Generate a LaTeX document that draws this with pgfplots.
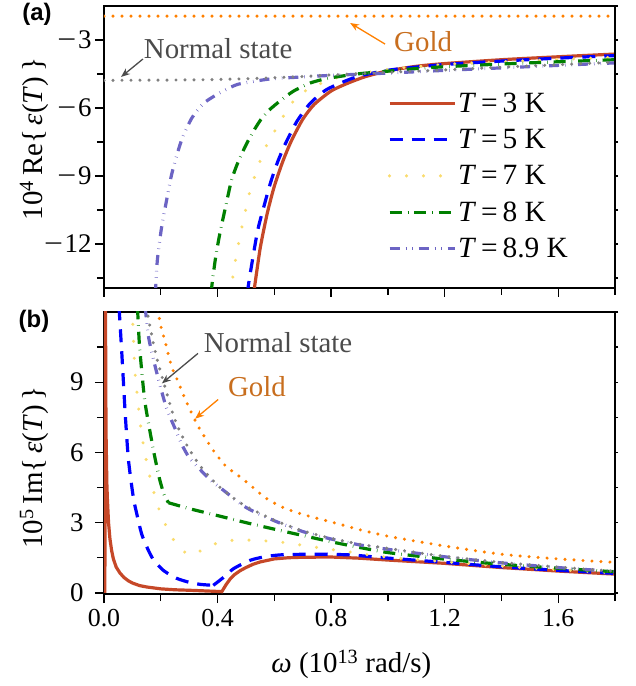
\documentclass[border=0pt]{standalone}
\usepackage{fontspec}
\setmainfont{Liberation Serif}
\newfontfamily\sansfont{Liberation Sans}
\usepackage{graphicx}
\usepackage{pgfplots}
\pgfplotsset{compat=1.18}
\usetikzlibrary{arrows.meta}

\definecolor{cRed}{RGB}{198,72,40}
\definecolor{cBlue}{RGB}{0,0,255}
\definecolor{cYel}{RGB}{250,220,110}
\definecolor{cGreen}{RGB}{0,128,0}
\definecolor{cPur}{RGB}{108,100,196}
\definecolor{cGray}{RGB}{128,128,128}
\definecolor{cOrange}{RGB}{255,128,0}
\definecolor{cGoldTxt}{RGB}{200,110,30}
\definecolor{cNormTxt}{RGB}{75,75,75}

\newcommand{\mn}{\scalebox{1.25}[1]{−}\hspace{0.06em}}

\pgfplotsset{
  myaxis/.style={
    scale only axis, width=511bp, height=282bp,
    xmin=0, xmax=1.8,
    clip mode=individual,
    axis line style={line width=1.4bp},
    every tick/.style={black, line width=1.4bp},
    tick align=outside, xtick pos=bottom, ytick pos=left,
    major tick length=9bp, minor tick length=7bp,
    /pgf/number format/assume math mode=true,
    xticklabel style={font=\fontsize{26}{30}\selectfont},
    yticklabel style={font=\fontsize{27}{31}\selectfont},
    xtick={0,0.4,0.8,1.2,1.6},
    minor xtick={0.2,0.6,1.0,1.4,1.8},
  },
  rightticks/.style={
    scale only axis, width=511bp, height=282bp,
    xmin=0, xmax=1.8,
    axis x line=none, axis y line*=right,
    axis line style={line width=1.4bp, -},
    every tick/.style={black, line width=1.4bp},
    tick align=outside, major tick length=3bp,
    xtick=\empty, yticklabels={},
  },
  sRed/.style={cRed, line width=3.2bp, solid},
  sBlue/.style={cBlue, line width=3.2bp, dash pattern=on 13bp off 9bp},
  sYel/.style={cYel, line width=3.4bp, line cap=round, dash pattern=on 0bp off 17bp},
  sGreen/.style={cGreen, line width=3.2bp, dash pattern=on 12bp off 6bp on 0.5bp off 6bp},
  sPur/.style={cPur, line width=3.2bp, dash pattern=on 10bp off 6bp on 0.5bp off 6bp on 0.5bp off 6bp},
  sGray/.style={cGray, line width=3.4bp, line cap=round, dash pattern=on 0bp off 9bp},
  sOrange/.style={cOrange, line width=3.4bp, line cap=round, dash pattern=on 0bp off 9bp},
}

\begin{document}
\begin{tikzpicture}[font=\fontsize{29}{34}\selectfont]

% ---------------- (a) ----------------
\begin{axis}[myaxis, at={(0,306bp)}, anchor=south west,
  ymin=-13.94, ymax=-1.5,
  ytick={-12,-9,-6,-3}, yticklabels={\mn12,\mn9,\mn6,\mn3},
  minor ytick={-13.5,-10.5,-7.5,-4.5},
  xticklabels={},
  legend cell align=left,
  legend image code/.code={\draw[#1] (0bp,0bp) -- (65bp,0bp);},
  legend style={draw=none, fill=none, at={(axis description cs:0.555,0.70)}, anchor=north west,
    font=\fontsize{29.5}{34}\selectfont, row sep=11.5bp, inner sep=0pt},
]
\addlegendimage{sRed}\addlegendentry{\textit{T}\,=\,3 K}
\addlegendimage{sBlue}\addlegendentry{\textit{T}\,=\,5 K}
\addlegendimage{sYel}\addlegendentry{\textit{T}\,=\,7 K}
\addlegendimage{sGreen}\addlegendentry{\textit{T}\,=\,8 K}
\addlegendimage{sPur}\addlegendentry{\textit{T}\,=\,8.9 K}

\addplot[sRed, smooth, tension=0.4, forget plot] coordinates {
 (0.527,-14.2) (0.55,-12.2) (0.575,-10.65) (0.6,-9.45) (0.63,-8.35) (0.66,-7.45)
 (0.70,-6.5) (0.74,-5.85) (0.8,-5.25) (0.86,-4.9) (0.92,-4.62) (1.0,-4.36)
 (1.1,-4.16) (1.2,-4.04) (1.4,-3.87) (1.6,-3.74) (1.8,-3.62)};
\addplot[sBlue, smooth, tension=0.4, forget plot] coordinates {
 (0.505,-14.2) (0.511,-13.62) (0.540,-11.48) (0.564,-10.31) (0.587,-9.28) (0.611,-8.4)
 (0.638,-7.6) (0.679,-6.6) (0.726,-5.8) (0.785,-5.18) (0.879,-4.67) (0.961,-4.42)
 (1.04,-4.27) (1.2,-4.08) (1.4,-3.93) (1.6,-3.8) (1.8,-3.69)};
\addplot[sYel, smooth, tension=0.4, forget plot] coordinates {
 (0.445,-14.2) (0.458,-13.1) (0.468,-12.37) (0.479,-11.66) (0.49,-11.0) (0.503,-10.26)
 (0.517,-9.53) (0.536,-8.84) (0.554,-8.2) (0.575,-7.59) (0.607,-6.9) (0.635,-6.3)
 (0.667,-5.7) (0.714,-5.2) (0.773,-4.87) (0.814,-4.68) (0.914,-4.45) (1.04,-4.24)
 (1.2,-4.08) (1.4,-3.96) (1.6,-3.86) (1.8,-3.76)};
\addplot[sGreen, smooth, tension=0.4, forget plot] coordinates {
 (0.377,-14.2) (0.382,-13.62) (0.394,-12.52) (0.409,-11.48) (0.431,-10.2) (0.45,-9.15)
 (0.475,-8.3) (0.505,-7.51) (0.529,-6.97) (0.552,-6.52) (0.581,-6.1) (0.623,-5.66)
 (0.667,-5.26) (0.726,-4.9) (0.785,-4.7) (0.89,-4.5) (0.996,-4.38) (1.1,-4.26)
 (1.2,-4.18) (1.4,-4.06) (1.6,-3.96) (1.8,-3.87)};
\addplot[sPur, smooth, tension=0.4, forget plot] coordinates {
 (0.181,-14.2) (0.188,-12.7) (0.203,-11.25) (0.22,-10.1) (0.237,-9.0) (0.256,-8.1)
 (0.278,-7.25) (0.311,-6.41) (0.352,-5.78) (0.411,-5.31) (0.47,-4.96) (0.55,-4.78)
 (0.6,-4.7) (0.7,-4.63) (0.8,-4.56) (1.0,-4.46) (1.2,-4.34) (1.4,-4.23)
 (1.6,-4.12) (1.8,-4.01)};
\addplot[sGray, smooth, forget plot] coordinates {
 (0,-4.78) (0.3,-4.76) (0.5,-4.71) (0.7,-4.61) (0.8,-4.54) (1.0,-4.43)
 (1.2,-4.32) (1.4,-4.2) (1.6,-4.09) (1.8,-3.98)};
\addplot[sOrange, forget plot] coordinates {(0,-1.95) (1.8,-1.95)};

\node[text=cNormTxt] at (axis cs:0.402,-3.40) {Normal state};
\draw[cNormTxt, line width=1.3bp, -{Stealth[length=9bp,width=7bp]}] (axis cs:0.137,-3.84) -- (axis cs:0.06,-4.63);
\node[text=cGoldTxt] at (axis cs:1.124,-3.09) {Gold};
\draw[cOrange, line width=1.3bp, -{Stealth[length=9bp,width=7bp]}] (axis cs:0.99,-3.18) -- (axis cs:0.867,-2.25);

\node[rotate=90] at (axis description cs:-0.137,0.528) {10\textsuperscript{4}\,Re\{\,\textit{ε}(\textit{T})\,\}};
\node[font=\sansfont\bfseries\fontsize{24}{28}\selectfont] at (axis description cs:-0.131,0.972) {(a)};
\end{axis}
\begin{axis}[rightticks, at={(0,306bp)}, anchor=south west,
  ymin=-13.94, ymax=-1.5, ytick={-13.5,-12,...,-1.5}]
\end{axis}

% ---------------- (b) ----------------
\begin{axis}[myaxis, at={(0,0)}, anchor=south west,
  ymin=-0.05, ymax=12,
  ytick={0,3,6,9}, minor ytick={1.5,4.5,7.5,10.5},
  xticklabels={0.0,0.4,0.8,1.2,1.6},
  xticklabel style={yshift=-3bp},
  yticklabel style={xshift=-8bp},
]
\addplot[sRed, forget plot] coordinates {
 (0.003,0) (0.005,13) (0.007,7) (0.01,4.7) (0.012,4.0) (0.016,3.0) (0.021,2.3)
 (0.027,1.8) (0.033,1.45) (0.043,1.1) (0.056,0.85) (0.07,0.66) (0.085,0.52) (0.1,0.42)
 (0.125,0.31) (0.15,0.25) (0.2,0.17) (0.25,0.13) (0.3,0.11) (0.35,0.085) (0.4,0.06) (0.415,0.05)
 (0.43,0.35) (0.445,0.6) (0.46,0.78) (0.48,0.95) (0.5,1.08) (0.525,1.22) (0.55,1.32)
 (0.6,1.45) (0.65,1.5) (0.7,1.52) (0.8,1.53) (0.9,1.48) (1.0,1.4) (1.2,1.26)
 (1.4,1.08) (1.6,0.93) (1.8,0.8)};
\addplot[sBlue, smooth, tension=0.4, forget plot] coordinates {
 (0.053,12.2) (0.058,11.2) (0.062,10.4) (0.068,9.1) (0.075,7.6) (0.086,5.7) (0.103,4.1)
 (0.115,3.4) (0.133,2.5) (0.155,1.85) (0.175,1.4) (0.21,0.95) (0.256,0.62) (0.3,0.45)
 (0.34,0.36) (0.385,0.32)};
\addplot[sBlue, smooth, tension=0.4, forget plot] coordinates {
 (0.385,0.32) (0.42,0.65) (0.456,1.03) (0.515,1.39) (0.57,1.55) (0.632,1.63) (0.75,1.65)
 (0.867,1.62) (0.984,1.5) (1.2,1.3) (1.4,1.11) (1.6,0.96) (1.8,0.83)};
\addplot[sYel, smooth, tension=0.4, forget plot] coordinates {
 (0.099,12.2) (0.103,11.03) (0.109,9.46) (0.12,8.1) (0.133,6.75) (0.145,5.9) (0.16,5.05)
 (0.18,4.1) (0.197,3.46) (0.215,2.96) (0.233,2.49) (0.262,1.99) (0.291,1.68) (0.31,1.62)
 (0.33,1.72) (0.356,1.92) (0.403,2.14) (0.456,2.25) (0.515,2.25) (0.62,2.17) (0.761,1.92)
 (0.867,1.74) (0.926,1.63) (1.0,1.52) (1.2,1.33) (1.4,1.14) (1.6,0.99) (1.8,0.86)};
\addplot[sGreen, smooth, tension=0.4, forget plot] coordinates {
 (0.118,12.2) (0.124,10.75) (0.133,9.46) (0.144,8.17) (0.162,6.89) (0.18,5.74)
 (0.197,4.8) (0.212,4.2) (0.227,3.85)};
\addplot[sGreen, smooth, tension=0.4, forget plot] coordinates {
 (0.227,3.85) (0.3,3.6) (0.4,3.3) (0.5,3.0) (0.6,2.72) (0.7,2.45) (0.8,2.18)
 (0.9,1.94) (1.0,1.72) (1.2,1.44) (1.4,1.22) (1.6,1.05) (1.8,0.9)};
\addplot[sPur, smooth, tension=0.4, forget plot] coordinates {
 (0.145,12.2) (0.156,11.0) (0.168,10.3) (0.19,9.2) (0.22,7.9) (0.25,7.03) (0.275,6.32)
 (0.3,5.78) (0.34,5.25) (0.375,4.82) (0.42,4.39) (0.5,3.65) (0.6,3.08) (0.7,2.62)
 (0.8,2.3) (0.9,2.05) (1.0,1.86) (1.2,1.54) (1.4,1.28) (1.6,1.08) (1.8,0.91)};
\addplot[sGray, smooth, tension=0.4, forget plot] coordinates {
 (0.15,12.2) (0.16,11.5) (0.175,10.6) (0.19,9.85) (0.21,9.0) (0.24,7.75) (0.26,7.1)
 (0.29,6.35) (0.32,5.75) (0.35,5.25) (0.4,4.6) (0.45,4.1) (0.5,3.7) (0.6,3.1)
 (0.7,2.65) (0.8,2.33) (0.9,2.08) (1.0,1.9) (1.2,1.56) (1.4,1.3) (1.6,1.1) (1.8,0.92)};
\addplot[sOrange, smooth, tension=0.4, forget plot] coordinates {
 (0.19,12.1) (0.2,11.4) (0.215,10.75) (0.227,10.17) (0.24,9.6) (0.26,9.05) (0.28,8.45)
 (0.3,7.9) (0.33,7.15) (0.36,6.55) (0.39,6.0) (0.43,5.4) (0.48,4.95) (0.52,4.55)
 (0.57,4.05) (0.63,3.65) (0.7,3.35) (0.8,3.03) (0.9,2.7) (1.0,2.42) (1.2,2.0)
 (1.4,1.65) (1.6,1.45) (1.8,1.3)};

\node[text=cNormTxt] at (axis cs:0.613,10.7) {Normal state};
\draw[cNormTxt, line width=1.3bp, -{Stealth[length=9bp,width=7bp]}] (axis cs:0.331,10.23) -- (axis cs:0.204,8.95);
\node[text=cGoldTxt] at (axis cs:0.539,8.82) {Gold};
\draw[cOrange, line width=1.3bp, -{Stealth[length=9bp,width=7bp]}] (axis cs:0.402,8.26) -- (axis cs:0.321,7.44);

\node[rotate=90] at (axis description cs:-0.137,0.448) {10\textsuperscript{5}\,Im\{\,\textit{ε}(\textit{T})\,\}};
\node[font=\sansfont\bfseries\fontsize{24}{28}\selectfont] at (axis description cs:-0.137,0.968) {(b)};
\node at (axis description cs:0.484,-0.249) {\textit{ω} (10\textsuperscript{13} rad/s)};
\end{axis}
\begin{axis}[rightticks, at={(0,0)}, anchor=south west,
  ymin=-0.05, ymax=12, ytick={0,1.5,...,12}]
\end{axis}

\pgfresetboundingbox
\path[use as bounding box] (-104bp,-92bp) rectangle (532bp,594bp);
\end{tikzpicture}
\end{document}
